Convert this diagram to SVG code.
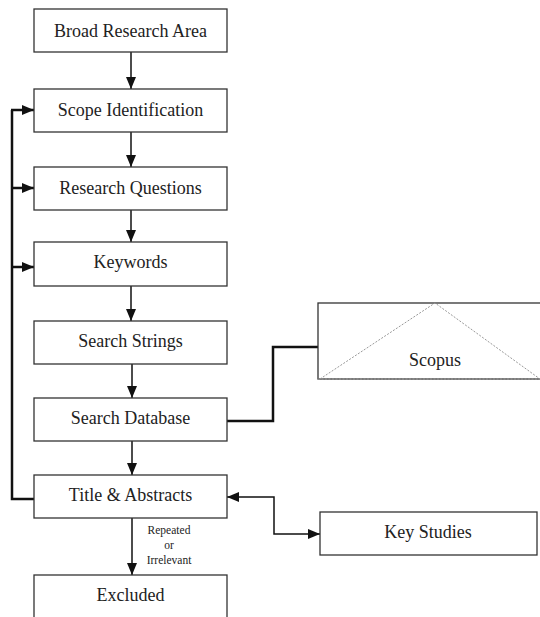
<svg xmlns="http://www.w3.org/2000/svg" width="540" height="617" viewBox="0 0 540 617">
<style>
.box{fill:#fff;stroke:#333;stroke-width:1.3}
.t{font-family:"Liberation Serif","Times New Roman",serif;font-size:18px;fill:#222;text-anchor:middle}
.s{font-family:"Liberation Serif","Times New Roman",serif;font-size:11.5px;fill:#222;text-anchor:middle}
.c{fill:none;stroke:#111;stroke-width:1.5}
.ck{fill:none;stroke:#111;stroke-width:2.5}
.tri{fill:none;stroke:#999;stroke-width:1;stroke-dasharray:2 1.5}
</style>
<defs>
<marker id="ah" viewBox="0 0 12 10" refX="12" refY="5" markerWidth="12" markerHeight="10" markerUnits="userSpaceOnUse" orient="auto-start-reverse">
<path d="M0,0 L12,5 L0,10 Z" fill="#111"/>
</marker>
</defs>
<rect width="540" height="617" fill="#fff"/>
<g id="connectors">
<line class="c" x1="131" y1="52" x2="131" y2="89" marker-end="url(#ah)"/>
<line class="c" x1="131" y1="132" x2="131" y2="167" marker-end="url(#ah)"/>
<line class="c" x1="131" y1="210" x2="131" y2="242" marker-end="url(#ah)"/>
<line class="c" x1="131" y1="286" x2="131" y2="321" marker-end="url(#ah)"/>
<line class="c" x1="132" y1="364" x2="132" y2="398" marker-end="url(#ah)"/>
<line class="c" x1="132" y1="441" x2="132" y2="475" marker-end="url(#ah)"/>
<line class="c" x1="132" y1="518" x2="132" y2="575" marker-end="url(#ah)"/>
<polyline class="ck" points="34,499 12,499 12,110"/>
<line class="ck" x1="11" y1="110" x2="34" y2="110" marker-end="url(#ah)"/>
<line class="ck" x1="12" y1="188" x2="34" y2="188" marker-end="url(#ah)"/>
<line class="ck" x1="12" y1="267" x2="34" y2="267" marker-end="url(#ah)"/>
<polyline class="ck" points="227,421 273,421 273,347 318,347"/>
<polyline class="c" points="227,497 274,497 274,534 320,534" marker-start="url(#ah)" marker-end="url(#ah)"/>
<text class="s" x="169" y="534">Repeated</text>
<text class="s" x="169" y="549">or</text>
<text class="s" x="169" y="564">Irrelevant</text>
</g>
<g id="broad"><rect class="box" x="34" y="9" width="193" height="43"/><text class="t" x="130.5" y="37">Broad Research Area</text></g>
<g id="scope"><rect class="box" x="34" y="89" width="193" height="43"/><text class="t" x="130.5" y="116">Scope Identification</text></g>
<g id="questions"><rect class="box" x="34" y="167" width="193" height="43"/><text class="t" x="130.5" y="194">Research Questions</text></g>
<g id="keywords"><rect class="box" x="34" y="242" width="193" height="44"/><text class="t" x="130.5" y="268">Keywords</text></g>
<g id="strings"><rect class="box" x="34" y="321" width="193" height="43"/><text class="t" x="130.5" y="347">Search Strings</text></g>
<g id="database"><rect class="box" x="34" y="398" width="193" height="43"/><text class="t" x="130.5" y="424">Search Database</text></g>
<g id="title"><rect class="box" x="34" y="475" width="193" height="43"/><text class="t" x="130.5" y="501">Title &amp; Abstracts</text></g>
<g id="excluded"><rect class="box" x="34" y="575" width="193" height="50"/><text class="t" x="130.5" y="601">Excluded</text></g>
<g id="scopus"><rect class="box" x="318" y="303" width="230" height="76"/><polyline class="tri" points="320,379 435,303 540,379"/><line class="tri" x1="318" y1="379" x2="540" y2="379"/><text class="t" x="435" y="366">Scopus</text></g>
<g id="keystudies"><rect class="box" x="320" y="512" width="217" height="43"/><text class="t" x="428" y="538">Key Studies</text></g>
</svg>
